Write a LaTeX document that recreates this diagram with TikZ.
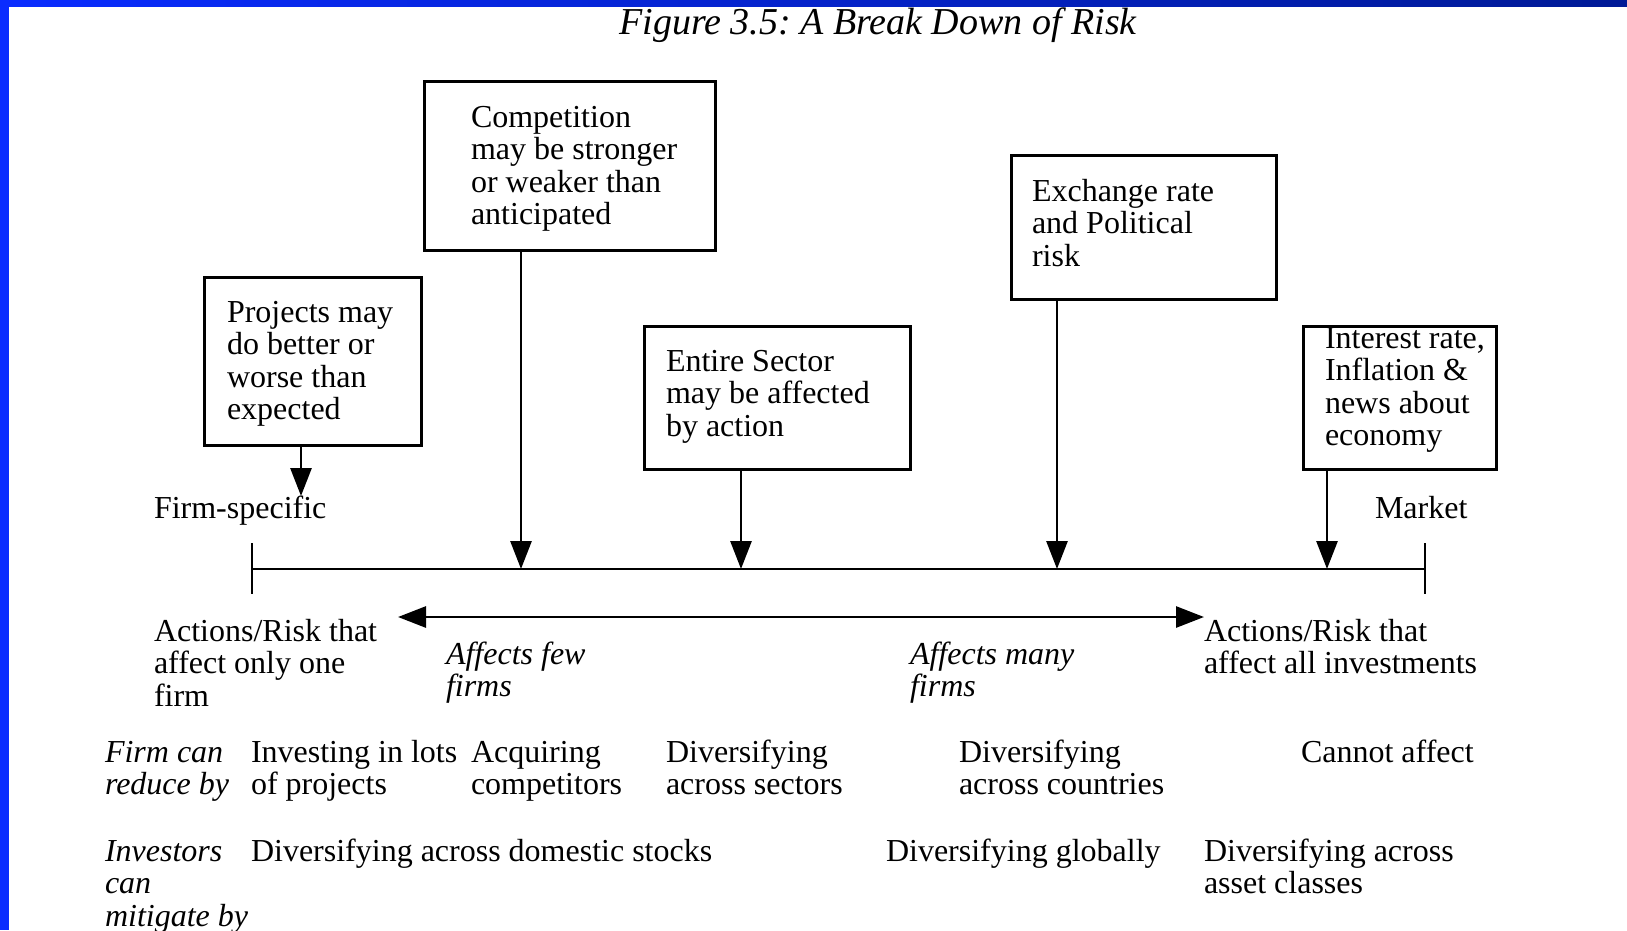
\documentclass[tikz,border=0pt]{standalone}
\usepackage{fontspec}
\setmainfont{Liberation Serif}
\usetikzlibrary{arrows.meta}
\definecolor{frameA}{RGB}{10,44,255}
\definecolor{frameB}{RGB}{0,26,150}
\newcommand{\ml}[1]{\begin{tabular}[t]{@{}l@{}}#1\end{tabular}}
\frenchspacing
\begin{document}
\begin{tikzpicture}[x=1pt,y=-1pt,
  txt/.style={anchor=base west,inner sep=0pt,outer sep=0pt,font=\fontsize{32}{32.5}\selectfont},
  itx/.style={txt,font=\fontsize{32}{32.5}\selectfont\itshape},
  box/.style={draw,line width=2.8pt,inner sep=0pt,anchor=north west},
  arr/.style={line width=2.8pt,-{Triangle[length=28pt,width=21pt]}},
  ln/.style={line width=2.8pt}]
\useasboundingbox (0,0) rectangle (1627,930);
\fill[white] (0,0) rectangle (1627,930);
% blue frame
\shade[left color=frameA,right color=frameB] (0,0) rectangle (1627,6);
\fill[frameA] (0,0) rectangle (8.7,930);
% title
\node[anchor=base,inner sep=0pt,font=\fontsize{38}{40}\selectfont\itshape] (title) at (878,34) {Figure 3.5: A Break Down of Risk};
% boxes
\node[box,minimum width=217pt,minimum height=168pt] (proj) at (203,276) {};
\node[box,minimum width=291pt,minimum height=169pt] (comp) at (423,80) {};
\node[box,minimum width=266pt,minimum height=143pt] (sect) at (643,325) {};
\node[box,minimum width=265pt,minimum height=144pt] (exch) at (1010,154) {};
\node[box,minimum width=193pt,minimum height=143pt] (intr) at (1302,325) {};
\node[txt] (tproj) at (227,322) {\ml{Projects may\\do better or\\worse than\\expected}};
\node[txt] (tcomp) at (471,127) {\ml{Competition\\may be stronger\\or weaker than\\anticipated}};
\node[txt] (tsect) at (666,371) {\ml{Entire Sector\\may be affected\\by action}};
\node[txt] (texch) at (1032,201) {\ml{Exchange rate\\and Political\\risk}};
\node[txt] (tintr) at (1325,348) {\ml{Interest rate,\\Inflation \&\\news about\\economy}};
% axis
\coordinate (L) at (252,569);
\coordinate (R) at (1425,569);
\coordinate (Lt) at (252,543); \coordinate (Lb) at (252,594);
\coordinate (Rt) at (1425,543); \coordinate (Rb) at (1425,594);
\draw[ln] (L) -- (R);
\draw[ln] (Lt) -- (Lb);
\draw[ln] (Rt) -- (Rb);
% arrows
\coordinate (fs) at (301,496);
\coordinate (a2) at (521,569);
\coordinate (a3) at (741,569);
\coordinate (a4) at (1057,569);
\coordinate (a5) at (1327,569);
\draw[arr] (proj.south -| fs) -- (fs);
\draw[arr] (comp.south -| a2) -- (a2);
\draw[arr] (sect.south -| a3) -- (a3);
\draw[arr] (exch.south -| a4) -- (a4);
\draw[arr] (intr.south -| a5) -- (a5);
\coordinate (dl) at (398,617);
\coordinate (dr) at (1204,617);
\draw[line width=2.8pt,{Triangle[length=28pt,width=21pt]}-{Triangle[length=28pt,width=21pt]}] (dl) -- (dr);
% labels
\node[txt] (firmspec) at (154,518) {Firm-specific};
\node[txt] (market) at (1375,518) {Market};
\node[txt] (arl) at (154,641) {\ml{Actions/Risk that\\affect only one\\firm}};
\node[itx] (few) at (446,664) {\ml{Affects few\\firms}};
\node[itx] (many) at (910,664) {\ml{Affects many\\firms}};
\node[txt] (arr) at (1204,641) {\ml{Actions/Risk that\\affect all investments}};
% firm can reduce
\node[itx] (fcr) at (105,762) {\ml{Firm can\\reduce by}};
\node[txt] (r1) at (251,762) {\ml{Investing in lots\\of projects}};
\node[txt] (r2) at (471,762) {\ml{Acquiring\\competitors}};
\node[txt] (r3) at (666,762) {\ml{Diversifying\\across sectors}};
\node[txt] (r4) at (959,762) {\ml{Diversifying\\across countries}};
\node[txt] (r5) at (1301,762) {Cannot affect};
% investors
\node[itx] (icm) at (105,861) {\ml{Investors\\can\\mitigate by}};
\node[txt] (m1) at (251,861) {Diversifying across domestic stocks};
\node[txt] (m2) at (886,861) {Diversifying globally};
\node[txt] (m3) at (1204,861) {\ml{Diversifying across\\asset classes}};
\end{tikzpicture}
\end{document}
